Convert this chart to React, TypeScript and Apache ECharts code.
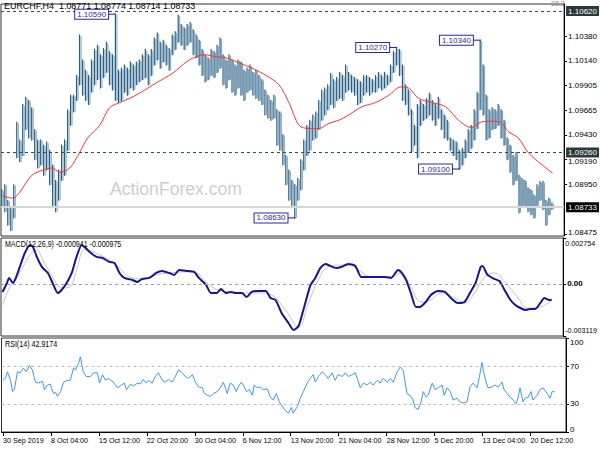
import React, { useEffect, useRef } from "react";
import * as echarts from "echarts";

// ---------- data ----------
const barHigh = [
  1.0890, 1.0895, 1.0880, 1.0873, 1.0895, 1.0955, 1.0938, 1.0972, 1.0979, 1.0976,
  1.0969, 1.0948, 1.0938, 1.0938, 1.0933, 1.0936, 1.0928, 1.0914, 1.0899, 1.0909,
  1.0933, 1.0938, 1.0967, 1.0981, 1.0981, 1.1000, 1.1039, 1.1015, 1.1005, 1.1000,
  1.1015, 1.1025, 1.1029, 1.1020, 1.1026, 1.1032, 1.1023, 1.1020, 1.1059, 1.1005,
  1.1007, 1.1010, 1.1007, 1.1013, 1.1010, 1.1013, 1.1015, 1.1020, 1.1025, 1.1020,
  1.1025, 1.1036, 1.1041, 1.1032, 1.1034, 1.1029, 1.1026, 1.1039, 1.1042, 1.1058,
  1.1049, 1.1046, 1.1049, 1.1051, 1.1044, 1.1039, 1.1034, 1.1025, 1.1020, 1.1017,
  1.1025, 1.1023, 1.1029, 1.1036, 1.1020, 1.1015, 1.1020, 1.1015, 1.1010, 1.1015,
  1.1013, 1.1005, 1.1007, 1.1010, 1.1003, 1.1005, 1.1000, 1.0996, 1.0986, 1.0981,
  1.0976, 1.0981, 1.0967, 1.0965, 1.0943, 1.0923, 1.0909, 1.0899, 1.0895, 1.0901,
  1.0919, 1.0938, 1.0952, 1.0957, 1.0962, 1.0965, 1.0976, 1.0986, 1.0988, 1.0991,
  1.1002, 1.0996, 1.0998, 1.1003, 1.1000, 1.1010, 1.1003, 1.1000, 1.0998, 1.0996,
  1.0994, 1.1000, 1.1000, 1.0998, 1.0996, 1.1000, 1.1003, 1.1000, 1.1003, 1.1000,
  1.1010, 1.1023, 1.1027, 1.1025, 1.1010, 1.0991, 1.0986, 1.0967, 1.0952, 1.0972,
  1.0976, 1.0972, 1.0978, 1.0983, 1.0976, 1.0972, 1.0979, 1.0967, 1.0962, 1.0957,
  1.0940, 1.0938, 1.0936, 1.0928, 1.0930, 1.0938, 1.0948, 1.0952, 1.0967, 1.0984,
  1.1034, 1.1010, 1.0981, 1.0967, 1.0969, 1.0967, 1.0972, 1.0967, 1.0957, 1.0940,
  1.0933, 1.0923, 1.0926, 1.0904, 1.0901, 1.0899, 1.0892, 1.0890, 1.0885, 1.0895,
  1.0898, 1.0898, 1.0880, 1.0882, 1.08774,
];
const barLow = [
  1.0873, 1.0869, 1.0856, 1.0851, 1.0863, 1.0921, 1.0917, 1.0923, 1.0948, 1.0940,
  1.0938, 1.0919, 1.0911, 1.0914, 1.0904, 1.0909, 1.0895, 1.0875, 1.0869, 1.0880,
  1.0899, 1.0904, 1.0928, 1.0952, 1.0965, 1.0976, 1.0991, 1.0981, 1.0976, 1.0972,
  1.0984, 1.0991, 1.0996, 1.0988, 1.0998, 1.1003, 1.0991, 1.0986, 1.0976, 1.0974,
  1.0976, 1.0984, 1.0981, 1.0988, 1.0986, 1.0991, 1.0994, 1.0996, 1.0998, 1.0991,
  1.1000, 1.1010, 1.1015, 1.1007, 1.1013, 1.1010, 1.1005, 1.1020, 1.1025, 1.1032,
  1.1029, 1.1025, 1.1029, 1.1032, 1.1020, 1.1017, 1.1010, 1.1000, 1.0994, 1.0996,
  1.1000, 1.0998, 1.1003, 1.1007, 1.0991, 1.0988, 1.0996, 1.0984, 1.0981, 1.0988,
  1.0981, 1.0976, 1.0984, 1.0986, 1.0981, 1.0978, 1.0976, 1.0972, 1.0962, 1.0959,
  1.0957, 1.0959, 1.0933, 1.0928, 1.0914, 1.0895, 1.0880, 1.0875, 1.0863, 1.0880,
  1.0890, 1.0909, 1.0923, 1.0928, 1.0938, 1.0940, 1.0948, 1.0957, 1.0962, 1.0967,
  1.0972, 1.0969, 1.0976, 1.0978, 1.0976, 1.0984, 1.0986, 1.0984, 1.0981, 1.0972,
  1.0974, 1.0981, 1.0984, 1.0981, 1.0984, 1.0984, 1.0988, 1.0986, 1.0988, 1.0991,
  1.0994, 1.1003, 1.1010, 1.1000, 1.0976, 1.0972, 1.0962, 1.0926, 1.0933, 1.0921,
  1.0952, 1.0957, 1.0959, 1.0962, 1.0957, 1.0952, 1.0959, 1.0948, 1.0940, 1.0938,
  1.0928, 1.0923, 1.0919, 1.0910, 1.0914, 1.0921, 1.0926, 1.0930, 1.0938, 1.0949,
  1.0967, 1.0962, 1.0938, 1.0940, 1.0948, 1.0949, 1.0952, 1.0940, 1.0933, 1.0919,
  1.0907, 1.0895, 1.0899, 1.0868, 1.0875, 1.0873, 1.0869, 1.0866, 1.0863, 1.0875,
  1.0880, 1.0871, 1.0856, 1.0866, 1.08714,
];

// moving average (red), positions in bars
const maAt = [0, 3.5, 5.8, 9.8, 13.5, 16.5, 19.2, 22.5, 25.8, 28.5, 32.5, 35.8, 39.2, 42.5, 45.8, 51.5, 56.8, 62.5, 67.5, 71.5, 74.8, 79.2, 83.5, 88.2, 92.5, 95.8, 99.2, 102.5, 105.8, 109.2, 112.5, 115.8, 120.2, 124.8, 129.2, 133.2, 135.8, 139.2, 143.5, 148.2, 152.5, 156.8, 159.8, 162.5, 166.5, 169.2, 172.5, 175.8, 179.2, 184];
const maValue = [1.0884, 1.0882, 1.0888, 1.0904, 1.0909, 1.0911, 1.0907, 1.0911, 1.0926, 1.0940, 1.0952, 1.0969, 1.0974, 1.0978, 1.0983, 1.0993, 1.1002, 1.1015, 1.1020, 1.1018, 1.1017, 1.1012, 1.1007, 1.1000, 1.0991, 1.0974, 1.0952, 1.0949, 1.0949, 1.0954, 1.0957, 1.0962, 1.0970, 1.0974, 1.0981, 1.0989, 1.0988, 1.0978, 1.0974, 1.0970, 1.0957, 1.0950, 1.0955, 1.0956, 1.0955, 1.0946, 1.0940, 1.0926, 1.0917, 1.0906];

const macdAt = [0, 1.5, 2.2, 3.5, 4.2, 5.8, 7.5, 9.2, 10.2, 11.5, 13.2, 15.2, 16.8, 18.5, 19.8, 21.5, 23.2, 24.8, 26.5, 27.5, 29.2, 31.5, 33.5, 35.8, 37.5, 39.2, 40.8, 43.5, 45.2, 46.8, 49.2, 51.5, 53.5, 55.8, 57.5, 59.2, 61.5, 64.2, 65.8, 68.2, 69.8, 71.8, 73.2, 74.8, 76.5, 78.2, 80.2, 81.8, 83.5, 85.8, 88.2, 89.8, 91.5, 93.5, 95.8, 97.5, 99.2, 100.8, 103.2, 104.8, 106.5, 108.2, 109.8, 111.8, 113.5, 115.8, 118.2, 120.2, 122.5, 124.8, 128.2, 130.2, 132.5, 133.5, 135.2, 136.8, 138.5, 139.8, 141.8, 143.5, 145.8, 148.2, 150.2, 152.5, 154.8, 156.8, 158.5, 160.2, 160.8, 162.5, 164.8, 166.5, 168.2, 170.2, 171.8, 173.5, 175.2, 176.8, 178.5, 180.2, 181.5, 183.2, 184];
const macdValue = [-0.00048, 0.00006, 0.00036, 0.00006, 0.00024, 0.00102, 0.00186, 0.00234, 0.00222, 0.00162, 0.00102, 0.00066, 0.00006, -0.00054, -0.00036, 0.00006, 0.00066, 0.00162, 0.00234, 0.00222, 0.00192, 0.00162, 0.00156, 0.00132, 0.00126, 0.00066, 0.00036, 0.00024, 0.00012, 0.00030, 0.00036, 0.00066, 0.00078, 0.00066, 0.00054, 0.00084, 0.00078, 0.00072, 0.00036, -0.00006, -0.00054, -0.00054, -0.00030, -0.00054, -0.00048, -0.00054, -0.00054, -0.00078, -0.00048, -0.00042, -0.00042, -0.00084, -0.00096, -0.00174, -0.00234, -0.00276, -0.00252, -0.00156, -0.00006, 0.00036, 0.00096, 0.00120, 0.00108, 0.00096, 0.00102, 0.00120, 0.00108, 0.00042, 0.00042, 0.00042, 0.00042, 0.00036, 0.00084, 0.00072, 0.00024, -0.00054, -0.00138, -0.00138, -0.00108, -0.00066, -0.00042, -0.00048, -0.00084, -0.00114, -0.00108, -0.00048, 0.00006, 0.00102, 0.00108, 0.00054, 0.00030, 0.00018, -0.00036, -0.00096, -0.00126, -0.00144, -0.00156, -0.00150, -0.00150, -0.00114, -0.00084, -0.00096, -0.00094];

const signalAt = [0, 2.5, 5.8, 9.2, 11.5, 13.5, 16.8, 19.8, 22.5, 24.8, 27.5, 30.2, 35.8, 39.2, 42.5, 46.8, 51.5, 55.8, 61.5, 64.8, 69.2, 73.5, 80.2, 85.8, 90.2, 94.8, 99.2, 102.5, 105.8, 109.2, 115.8, 120.2, 123.5, 130.2, 133.5, 136.8, 140.2, 143.5, 146.8, 151.5, 154.8, 158.2, 161.5, 164.8, 168.2, 172.5, 175.8, 180.2, 184];
const signalValue = [-0.00126, -0.00018, 0.00066, 0.00174, 0.00204, 0.00144, 0.00042, -0.00024, -0.00018, 0.00084, 0.00204, 0.00192, 0.00144, 0.00096, 0.00042, 0.00030, 0.00054, 0.00066, 0.00072, 0.00066, -0.00006, -0.00042, -0.00054, -0.00054, -0.00066, -0.00156, -0.00258, -0.00114, 0.00024, 0.00102, 0.00114, 0.00072, 0.00042, 0.00042, 0.00066, -0.00018, -0.00108, -0.00096, -0.00054, -0.00084, -0.00114, -0.00054, 0.00042, 0.00066, 0.00012, -0.00078, -0.00144, -0.00138, -0.000975];

const rsiAt = [0, 0.8, 1.5, 2.5, 3.2, 3.8, 4.8, 5.8, 6.8, 7.8, 8.8, 9.8, 10.8, 11.8, 13.2, 13.8, 14.8, 15.8, 16.8, 17.5, 18.2, 19.2, 20.2, 21.5, 22.5, 23.5, 24.2, 25.2, 25.8, 26.8, 27.8, 29.2, 30.2, 31.5, 32.2, 33.2, 34.2, 35.2, 36.8, 38.2, 39.5, 40.5, 41.2, 42.5, 43.5, 44.8, 45.8, 46.8, 47.8, 48.5, 49.8, 50.8, 51.8, 53.2, 54.2, 55.2, 56.5, 57.5, 58.5, 59.8, 60.8, 61.8, 63.2, 64.2, 65.2, 66.5, 67.2, 68.2, 69.2, 70.2, 71.5, 72.5, 73.5, 74.2, 74.8, 75.8, 76.8, 77.8, 78.5, 79.5, 80.2, 81.2, 82.2, 83.2, 83.8, 84.8, 85.8, 86.8, 88.2, 89.2, 90.2, 91.2, 92.2, 93.2, 94.2, 95.2, 96.2, 96.8, 98.2, 99.2, 100.2, 101.5, 102.5, 103.5, 104.2, 105.2, 106.5, 107.5, 108.5, 109.8, 110.8, 111.8, 113.2, 114.2, 115.2, 116.5, 117.5, 118.2, 119.2, 120.2, 121.5, 122.5, 123.5, 124.8, 125.8, 126.8, 128.2, 129.2, 130.2, 131.5, 132.5, 133.5, 134.2, 134.8, 135.8, 136.8, 137.5, 138.5, 139.5, 140.2, 141.2, 141.8, 143.2, 144.2, 145.2, 146.5, 147.2, 148.2, 149.2, 150.2, 151.5, 152.5, 153.5, 154.8, 155.8, 156.8, 158.2, 159.2, 159.8, 160.2, 161.2, 161.8, 163.2, 164.2, 165.2, 166.5, 167.2, 168.2, 169.2, 170.2, 171.2, 171.8, 172.5, 173.5, 174.2, 175.2, 176.2, 176.8, 178.2, 179.2, 180.2, 181.5, 182.5, 183.2, 184];
const rsiValue = [55, 57, 64, 55, 43, 45, 64, 63, 68, 64, 71, 66, 53, 52, 54, 45, 50, 51, 41, 42, 38, 43, 53, 55, 55, 68, 66, 73, 80, 64, 59, 59, 63, 63, 52, 61, 55, 57, 53, 47, 50, 52, 45, 51, 49, 52, 51, 56, 52, 55, 52, 59, 63, 55, 53, 56, 53, 59, 66, 63, 59, 57, 61, 53, 48, 47, 41, 39, 38, 41, 43, 47, 53, 47, 41, 52, 50, 43, 48, 53, 50, 43, 45, 39, 50, 47, 48, 45, 46, 37, 34, 41, 32, 27, 23, 20, 26, 20, 27, 36, 43, 52, 57, 61, 53, 59, 64, 61, 57, 63, 55, 61, 59, 63, 59, 61, 63, 57, 47, 52, 50, 53, 50, 55, 52, 57, 53, 57, 53, 64, 69, 66, 52, 41, 39, 34, 26, 24, 32, 43, 37, 39, 52, 45, 47, 50, 39, 47, 43, 34, 36, 32, 31, 32, 48, 52, 47, 63, 74, 66, 53, 47, 48, 50, 48, 53, 45, 41, 37, 34, 30, 36, 47, 32, 36, 37, 43, 34, 39, 45, 47, 41, 36, 43, 42.9174];

// labelled swing points
const pivotBar = [38, 98, 132, 153, 160];
const pivotPrice = [1.1059, 1.0863, 1.1027, 1.0910, 1.1034];

// axis ticks / levels
const timeLabelBar = [0, 16, 32, 48, 64, 80, 96, 112, 128, 144, 160, 176];
const timeLabels = ["30 Sep 2019", "8 Oct 04:00", "15 Oct 12:00", "22 Oct 20:00", "30 Oct 04:00", "6 Nov 12:00", "13 Nov 20:00", "21 Nov 04:00", "28 Nov 12:00", "5 Dec 20:00", "13 Dec 04:00", "20 Dec 12:00"];
const priceTicks = [1.1038, 1.1014, 1.09905, 1.09665, 1.0943, 1.0919, 1.0895, 1.08475];
const priceLevels = [1.1062, 1.0926];
const lastPrice = 1.08733;
const macdTicks = [0.002754, 0, -0.003119];
const rsiTicks = [100, 70, 30, 0];
const rsiLevels = [70, 30];

const FONT = "'Liberation Sans', Arial, sans-serif";
const X_MIN = -0.5;
const X_MAX = -0.5 + 565 / 3;

export default function App() {
  const ref = useRef<HTMLDivElement>(null);
  useEffect(() => {
    const chart = echarts.init(ref.current as HTMLDivElement, null, { renderer: "svg" });
    const bars = barHigh.map((h, i) => [i, barLow[i], h]);
    const pair = (at: number[], v: number[]) => at.map((x, k) => [x, v[k]]);
    const border = { show: true, borderColor: "#303030", borderWidth: 1 };
    const hiddenX = (g: number) => ({ gridIndex: g, type: "value", min: X_MIN, max: X_MAX, show: false });
    const lbl = { fontSize: 8, fontFamily: FONT, color: "#000" };
    const levelLabel = {
      show: true, position: "end", distance: 2, color: "#fff", backgroundColor: "#2b3838",
      padding: [1, 2, 0, 2], lineHeight: 9, fontSize: 8, fontFamily: FONT,
      formatter: (p: any) => Number(p.value).toFixed(5),
    };
    const header = (text: string, left: number, top: number, sx: number) => ({
      type: "text", left, top, z: 100, scaleX: sx,
      style: { text, fontSize: 8.5, fontFamily: FONT, fill: "#000" },
    });
    const lastTick = priceTicks[priceTicks.length - 1];
    const crowdedTick = 1.0919;

    chart.setOption({
      animation: false,
      backgroundColor: "#fff",
      grid: [
        { left: 1, right: 34, top: 4, height: 232, ...border },
        { left: 1, right: 34, top: 238, height: 98, ...border },
        { left: 1, right: 34, top: 338, height: 94, ...border },
      ],
      xAxis: [
        hiddenX(0),
        hiddenX(1),
        {
          gridIndex: 2, type: "value", min: X_MIN, max: X_MAX,
          splitLine: { show: false },
          axisLine: { show: true, onZero: false, lineStyle: { color: "#000" } },
          axisTick: { show: true, length: 4, customValues: timeLabelBar, lineStyle: { color: "#000" } },
          axisLabel: {
            ...lbl, fontSize: 7.2, customValues: timeLabelBar, align: "left", margin: 5,
            formatter: (v: number) => timeLabels[timeLabelBar.indexOf(Math.round(v))] ?? "",
          },
        },
      ],
      yAxis: [
        {
          gridIndex: 0, type: "value", position: "right", min: 1.08456, max: 1.10688,
          splitLine: { show: false },
          axisLine: { show: true, onZero: false, lineStyle: { color: "#000" } },
          axisTick: { show: true, length: 3, customValues: priceTicks, lineStyle: { color: "#000" } },
          axisLabel: {
            ...lbl, lineHeight: 9, margin: 4, customValues: priceTicks,
            formatter: (v: number) =>
              v === lastTick ? `{b|${v.toFixed(5)}}` : v === crowdedTick ? `{d|${v.toFixed(5)}}` : v.toFixed(5),
            rich: {
              b: { ...lbl, lineHeight: 9, padding: [0, 0, 4, 0] },
              d: { ...lbl, lineHeight: 9, padding: [4, 0, 0, 0] },
            },
          },
        },
        {
          gridIndex: 1, type: "value", position: "right", min: -0.003119, max: 0.002754,
          splitLine: { show: false },
          axisLine: { show: true, onZero: false, lineStyle: { color: "#000" } },
          axisTick: { show: true, length: 3, customValues: macdTicks, lineStyle: { color: "#000" } },
          axisLabel: {
            ...lbl, fontSize: 7.2, margin: 2, customValues: macdTicks,
            formatter: (v: number) =>
              v === 0 ? "{z|0.00}" : v > 0 ? `{t|${v.toFixed(6)}}` : `{b|${v.toFixed(6)}}`,
            rich: {
              t: { ...lbl, fontSize: 7.2, padding: [10, 0, 0, 0] },
              b: { ...lbl, fontSize: 7.2, padding: [0, 0, 12, 0] },
              z: { ...lbl, fontWeight: "bold", padding: [0, 0, 0, 2] },
            },
          },
        },
        {
          gridIndex: 2, type: "value", position: "right", min: 0, max: 100,
          splitLine: { show: false },
          axisLine: { show: true, onZero: false, lineStyle: { color: "#000" } },
          axisTick: { show: true, length: 3, customValues: rsiTicks, lineStyle: { color: "#000" } },
          axisLabel: {
            ...lbl, margin: 4, customValues: rsiTicks,
            formatter: (v: number) => (v === 100 ? "{t|100}" : v === 0 ? "{b|0}" : String(v)),
            rich: { t: { ...lbl, padding: [8, 0, 0, 0] }, b: { ...lbl, padding: [0, 0, 6, 0] } },
          },
        },
      ],
      graphic: [
        {
          type: "text", left: 110, top: 180, z: 0, silent: true,
          style: { text: "ActionForex.com", fontSize: 17.6, fontFamily: FONT, fill: "#cdcdcd" },
        },
        header("EURCHF,H4  1.08771 1.08774 1.08714 1.08733", 4, 2, 1.05),
        {
          type: "text", left: 551, top: 0, z: 100,
          style: { text: "38.2", fontSize: 7, fontFamily: FONT, fill: "#888" },
        },
        header("MACD(12,26,9) -0.000941 -0.000975", 5, 240, 0.83),
        header("RSI(14) 42.9174", 5, 340, 0.84),
      ],
      series: [
        {
          // invisible carrier of the horizontal price levels
          type: "line", xAxisIndex: 0, yAxisIndex: 0, data: pair(maAt, maValue), z: 1,
          silent: true, symbol: "none", lineStyle: { opacity: 0 },
          markLine: {
            silent: true, symbol: ["none", "none"], animation: false, precision: 5,
            data: [
              ...priceLevels.map((p) => ({ yAxis: p, lineStyle: { type: [3, 3], color: "#2f4f4f", width: 1 }, label: levelLabel })),
              { yAxis: lastPrice, lineStyle: { type: "solid", color: "#d6d6d6", width: 2 }, label: { ...levelLabel, backgroundColor: "#000" } },
            ],
          },
        },
        {
          type: "custom", xAxisIndex: 0, yAxisIndex: 0, z: 2, clip: true,
          data: bars, encode: { x: 0, y: [1, 2] },
          renderItem: (_p: any, api: any) => {
            const x = api.value(0);
            const lo = api.coord([x, api.value(1)]);
            const hi = api.coord([x, api.value(2)]);
            return {
              type: "group",
              children: [
                { type: "line", shape: { x1: lo[0] - 0.7, y1: lo[1] + 0.5, x2: hi[0] - 0.7, y2: hi[1] - 0.5 }, style: { stroke: "#2b5e80", lineWidth: 1.2 } },
                { type: "line", shape: { x1: lo[0] + 0.8, y1: lo[1], x2: hi[0] + 0.8, y2: hi[1] + 1 }, style: { stroke: "#7ba2bd", lineWidth: 1 } },
              ],
            };
          },
        },
        {
          type: "line", xAxisIndex: 0, yAxisIndex: 0, data: pair(maAt, maValue), z: 3,
          symbol: "none", smooth: 0.3, lineStyle: { color: "#ff3030", width: 1 },
        },
        {
          type: "custom", xAxisIndex: 0, yAxisIndex: 0, z: 5, clip: false,
          data: pair(pivotBar, pivotPrice), encode: { x: 0, y: 1 },
          renderItem: (_p: any, api: any) => {
            const pt = api.coord([api.value(0), api.value(1)]);
            const gap = 8;
            return {
              type: "group",
              children: [
                { type: "line", shape: { x1: pt[0] - gap, y1: pt[1], x2: pt[0], y2: pt[1] }, style: { stroke: "#1c1c8c", lineWidth: 1 } },
                {
                  type: "text", x: pt[0] - gap, y: pt[1],
                  style: {
                    text: Number(api.value(1)).toFixed(5), align: "right", verticalAlign: "middle",
                    fill: "#2a2aa0", backgroundColor: "#fff", borderColor: "#2a2aa0", borderWidth: 1,
                    padding: [1, 2, 0, 2], fontSize: 8, fontFamily: FONT,
                  },
                },
              ],
            };
          },
        },
        {
          type: "line", xAxisIndex: 1, yAxisIndex: 1, data: pair(signalAt, signalValue), z: 2,
          symbol: "none", smooth: 0.4, lineStyle: { color: "#c4c4c4", width: 1 },
          markLine: {
            silent: true, symbol: ["none", "none"], label: { show: false },
            data: [{ yAxis: 0 }], lineStyle: { type: [3, 3], color: "#a0a0a0", width: 1 },
          },
        },
        {
          type: "line", xAxisIndex: 1, yAxisIndex: 1, data: pair(macdAt, macdValue), z: 3,
          symbol: "none", smooth: 0.2, lineStyle: { color: "#15158c", width: 2 },
        },
        {
          type: "line", xAxisIndex: 2, yAxisIndex: 2, data: pair(rsiAt, rsiValue), z: 3,
          symbol: "none", lineStyle: { color: "#3f97f0", width: 1 },
          markLine: {
            silent: true, symbol: ["none", "none"], label: { show: false },
            data: rsiLevels.map((v) => ({ yAxis: v })), lineStyle: { type: [3, 3], color: "#bdbdbd", width: 1 },
          },
        },
      ],
    });
    return () => chart.dispose();
  }, []);
  return <div ref={ref} style={{ position: "fixed", left: 0, top: 0, width: 600, height: 450, background: "#fff" }} />;
}
